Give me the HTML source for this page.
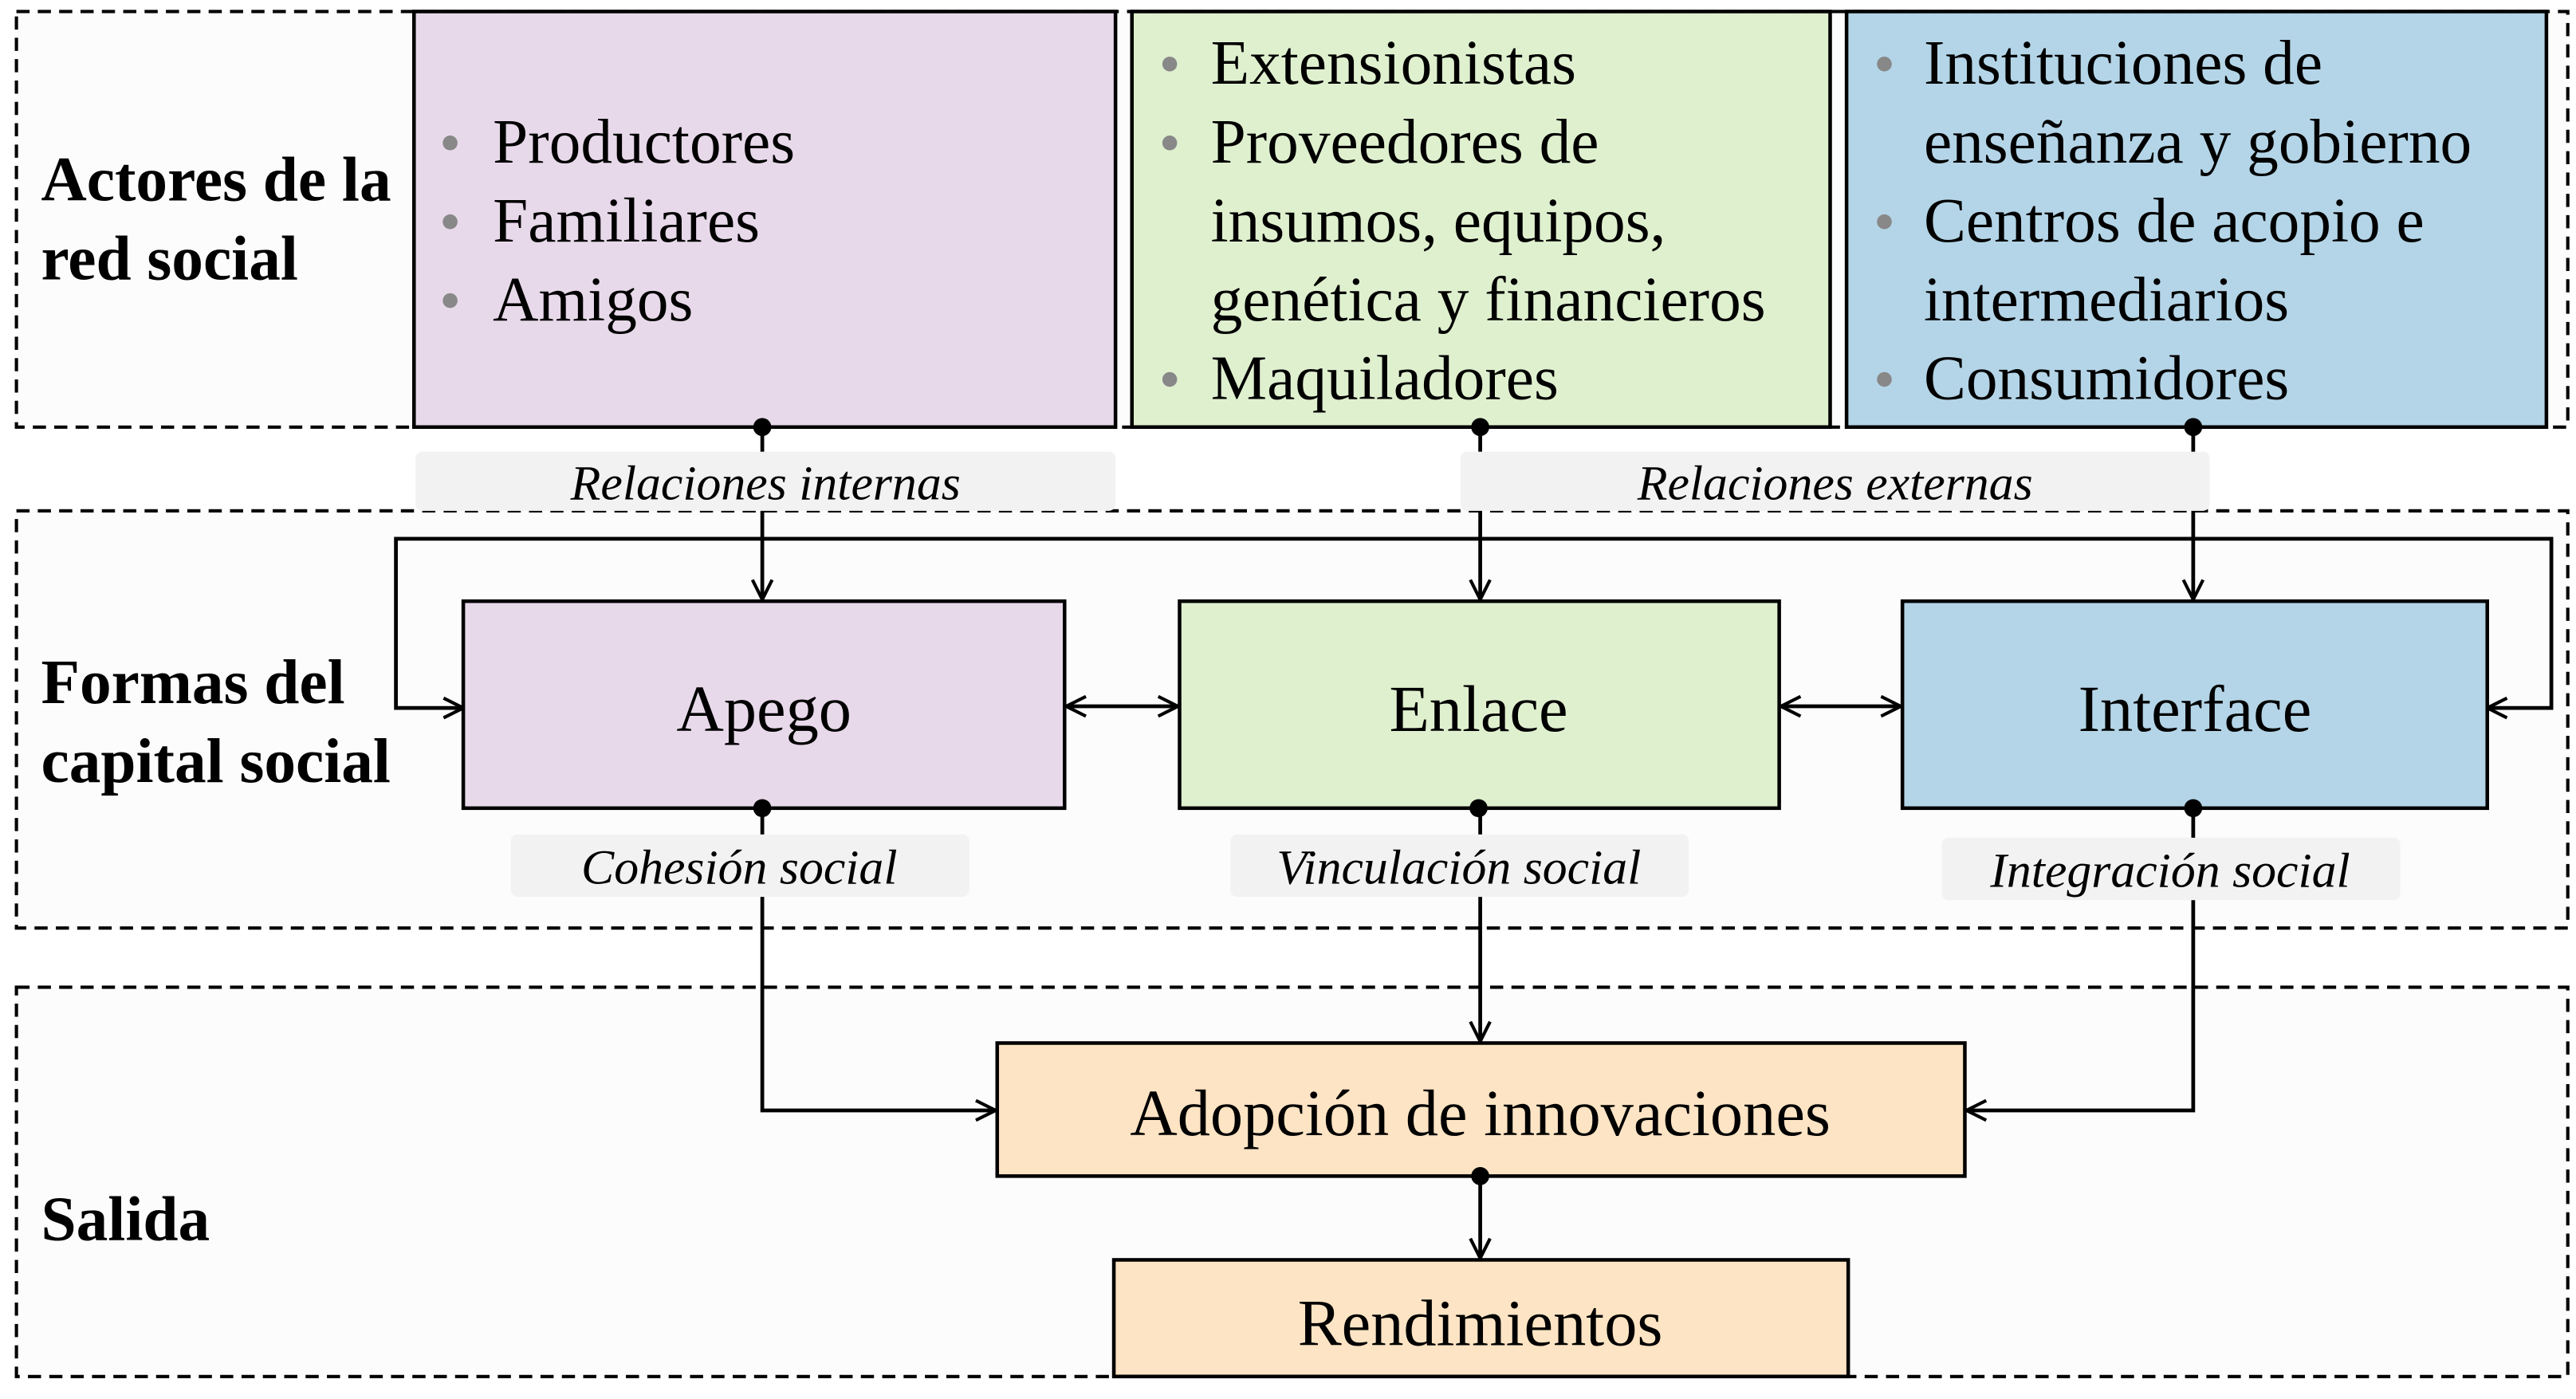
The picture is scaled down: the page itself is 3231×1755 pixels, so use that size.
<!DOCTYPE html>
<html><head><meta charset="utf-8"><style>html,body{margin:0;padding:0;background:#fff}svg{display:block}</style></head><body>
<svg width="3231" height="1755" viewBox="0 0 1568 851.7" preserveAspectRatio="none" xmlns="http://www.w3.org/2000/svg" font-family="'Liberation Serif', serif">
<defs>
<marker id="a" viewBox="0 0 14 14" refX="13" refY="7" markerWidth="14" markerHeight="14" markerUnits="userSpaceOnUse" orient="auto-start-reverse"><polyline points="1,1 13,7 1,13" fill="none" stroke="#000" stroke-width="2"/></marker>
</defs>
<g fill="#fcfcfc" stroke="#000" stroke-width="2" stroke-dasharray="8,5">
<rect x="10" y="7" width="1553" height="253"/>
<rect x="10" y="311" width="1553" height="254"/>
<rect x="10" y="601" width="1553" height="237"/>
</g>
<g stroke="#000" stroke-width="2.2">
<rect x="252" y="7" width="427" height="253" fill="#e8d9ea"/>
<rect x="689" y="7" width="425" height="253" fill="#dff0cf"/>
<rect x="1124" y="7" width="426" height="253" fill="#b4d5e7"/>
</g>
<g font-size="38.5" font-weight="bold">
<text x="25" y="122">Actores de la</text><text x="25" y="170">red social</text>
<text x="25" y="428">Formas del</text><text x="25" y="476">capital social</text>
<text x="25" y="755">Salida</text>
</g>
<g font-size="38.5">
<g fill="#888"><circle cx="274" cy="87" r="4.5"/><circle cx="274" cy="135" r="4.5"/><circle cx="274" cy="183" r="4.5"/>
<circle cx="712" cy="39" r="4.5"/><circle cx="712" cy="87" r="4.5"/><circle cx="712" cy="231" r="4.5"/>
<circle cx="1147" cy="39" r="4.5"/><circle cx="1147" cy="135" r="4.5"/><circle cx="1147" cy="231" r="4.5"/></g>
<text x="300" y="99">Productores</text><text x="300" y="147">Familiares</text><text x="300" y="195">Amigos</text>
<text x="737" y="51">Extensionistas</text><text x="737" y="99">Proveedores de</text><text x="737" y="147">insumos, equipos,</text><text x="737" y="195">genética y financieros</text><text x="737" y="243">Maquiladores</text>
<text x="1171" y="51">Instituciones de</text><text x="1171" y="99">enseñanza y gobierno</text><text x="1171" y="147">Centros de acopio e</text><text x="1171" y="195">intermediarios</text><text x="1171" y="243">Consumidores</text>
</g>
<g fill="none" stroke="#000" stroke-width="2.3">
<line x1="464" y1="260" x2="464" y2="365" marker-end="url(#a)"/>
<line x1="901" y1="260" x2="901" y2="365" marker-end="url(#a)"/>
<line x1="1335" y1="260" x2="1335" y2="365" marker-end="url(#a)"/>
<polyline points="282,431 241,431 241,328 1553,328 1553,431 1514,431" marker-start="url(#a)" marker-end="url(#a)"/>
<line x1="649" y1="430" x2="717" y2="430" marker-start="url(#a)" marker-end="url(#a)"/>
<line x1="1084" y1="430" x2="1157" y2="430" marker-start="url(#a)" marker-end="url(#a)"/>
<polyline points="464,492 464,676 606,676" marker-end="url(#a)"/>
<line x1="901" y1="492" x2="901" y2="634" marker-end="url(#a)"/>
<polyline points="1335,492 1335,676 1197,676" marker-end="url(#a)"/>
<line x1="901" y1="716" x2="901" y2="766" marker-end="url(#a)"/>
</g>
<g fill="#f2f2f2">
<rect x="253" y="275" width="426" height="36" rx="4"/>
<rect x="889" y="275" width="456" height="36" rx="4"/>
<rect x="311" y="508" width="279" height="38" rx="4"/>
<rect x="749" y="508" width="279" height="38" rx="4"/>
<rect x="1182" y="510" width="279" height="38" rx="4"/>
</g>
<g font-size="30" font-style="italic" text-anchor="middle">
<text x="466" y="304">Relaciones internas</text>
<text x="1117" y="304">Relaciones externas</text>
<text x="450" y="538">Cohesión social</text>
<text x="888" y="538">Vinculación social</text>
<text x="1321" y="540">Integración social</text>
</g>
<g stroke="#000" stroke-width="2.2">
<rect x="282" y="366" width="366" height="126" fill="#e8d9ea"/>
<rect x="718" y="366" width="365" height="126" fill="#dff0cf"/>
<rect x="1158" y="366" width="356" height="126" fill="#b4d5e7"/>
<rect x="607" y="635" width="589" height="81" fill="#fde4c4"/>
<rect x="678" y="767" width="447" height="71" fill="#fde4c4"/>
</g>
<g font-size="40" text-anchor="middle">
<text x="465" y="445">Apego</text>
<text x="900" y="445">Enlace</text>
<text x="1336" y="445">Interface</text>
<text x="901" y="691">Adopción de innovaciones</text>
<text x="901" y="819">Rendimientos</text>
</g>
<g fill="#000">
<circle cx="464" cy="260" r="5.5"/><circle cx="901" cy="260" r="5.5"/><circle cx="1335" cy="260" r="5.5"/>
<circle cx="464" cy="492" r="5.5"/><circle cx="900" cy="492" r="5.5"/><circle cx="1335" cy="492" r="5.5"/>
<circle cx="901" cy="716" r="5.5"/>
</g>
</svg>
</body></html>
